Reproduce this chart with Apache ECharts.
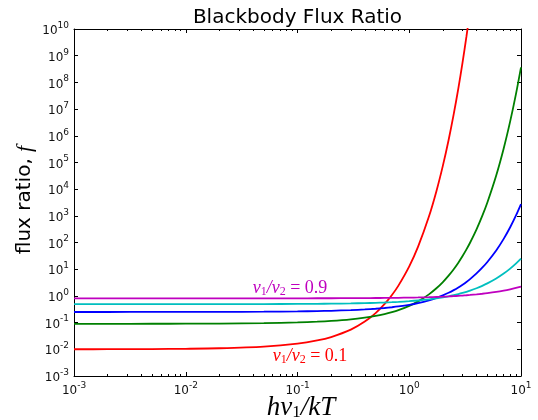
<!DOCTYPE html>
<html>
<head>
<meta charset="utf-8">
<script src="https://cdn.jsdelivr.net/npm/echarts@6/dist/echarts.min.js"></script>
<style>
  html, body { margin: 0; padding: 0; background: #fff; }
  #chart { width: 538px; height: 420px; }
</style>
</head>
<body>
<div id="chart"></div>
<script>
// x = h*nu1/kT
var xs = [0.001, 0.002, 0.005, 0.01, 0.02, 0.05, 0.1, 0.15, 0.2, 0.3, 0.4, 0.5, 0.6, 0.7, 0.8, 1,
  1.2, 1.5, 1.75, 2, 2.25, 2.5, 2.75, 3, 3.25, 3.5, 4, 4.5, 5, 6, 7, 8, 9, 10];
// flux ratio f, one array per nu1/nu2
var f01 = [0.01005, 0.01009, 0.010225, 0.010465, 0.01096, 0.01265, 0.01634, 0.02151, 0.02886, 0.05455,
  0.109, 0.2272, 0.4895, 1.081, 2.432, 12.82, 70.15, 938.9, 8376, 75937, 6.96e5, 6.44e6, 5.99e7,
  5.6e8, 5.25e9, 4.94e10];
var f03 = [0.0901, 0.09021, 0.09053, 0.09106, 0.09214, 0.09551, 0.1016, 0.1082, 0.1156, 0.1326,
  0.1534, 0.1787, 0.2098, 0.248, 0.295, 0.4247, 0.6237, 1.143, 1.934, 3.316, 5.748, 10.04, 17.65,
  31.16, 55.2, 98.04, 311, 991.5, 3170, 32551, 3.35e5, 3.45e6, 3.56e7, 3.67e8];
var f05 = [0.2501, 0.2503, 0.2506, 0.2513, 0.2525, 0.2564, 0.2631, 0.2702, 0.2777, 0.2937, 0.3115,
  0.3311, 0.3528, 0.3767, 0.4032, 0.4648, 0.54, 0.6852, 0.8443, 1.049, 1.311, 1.648, 2.08, 2.636,
  3.349, 4.264, 6.95, 11.38, 18.68, 50.55, 137.2, 372.7, 1013, 2753];
var f07 = [0.4901, 0.4902, 0.4905, 0.4911, 0.4921, 0.4953, 0.5008, 0.5065, 0.5123, 0.5246, 0.5376,
  0.5514, 0.5659, 0.5814, 0.5977, 0.6334, 0.673, 0.7412, 0.8067, 0.8811, 0.9652, 1.06, 1.167,
  1.288, 1.423, 1.574, 1.934, 2.382, 2.941, 4.498, 6.895, 10.58, 16.24, 24.92];
var f09 = [0.81005, 0.81009, 0.81023, 0.81045, 0.8109, 0.81225, 0.8146, 0.817, 0.8194, 0.8243,
  0.8295, 0.8348, 0.8404, 0.8461, 0.8521, 0.8645, 0.8778, 0.8992, 0.9184, 0.9388, 0.9604, 0.9833,
  1.007, 1.033, 1.059, 1.086, 1.145, 1.207, 1.274, 1.422, 1.588, 1.774, 1.982, 2.215];

var names = ["0.1", "0.3", "0.5", "0.7", "0.9"];
var colors = ["#ff0000", "#008000", "#0000ff", "#00bfbf", "#bf00bf"];
var values = [f01, f03, f05, f07, f09];

// tick positions
var xTicks = [0.001, 0.01, 0.1, 1, 10];
var xMinor = [0.002, 0.003, 0.004, 0.005, 0.006, 0.007, 0.008, 0.009,
  0.02, 0.03, 0.04, 0.05, 0.06, 0.07, 0.08, 0.09,
  0.2, 0.3, 0.4, 0.5, 0.6, 0.7, 0.8, 0.9,
  2, 3, 4, 5, 6, 7, 8, 9];
var yTicks = [1e-3, 1e-2, 1e-1, 1, 1e1, 1e2, 1e3, 1e4, 1e5, 1e6, 1e7, 1e8, 1e9, 1e10];

var chart = echarts.init(document.getElementById("chart"));

var font = "DejaVu Sans";
var mathFont = "Liberation Serif";

function powLabel(v) {
  var e = Math.round(Math.log10(v));
  return "{b|10}{s|" + (e < 0 ? "-" + (-e) : e) + "}";
}
var powRich = {
  b: { fontSize: 12, fontFamily: font, color: "#111", verticalAlign: "bottom", lineHeight: 16 },
  s: { fontSize: 9, fontFamily: font, color: "#111", verticalAlign: "top", lineHeight: 16 }
};

function logAxis(opt) {
  return {
    type: "log",
    logBase: 10,
    gridIndex: opt.grid || 0,
    min: opt.min,
    max: opt.max,
    position: opt.pos,
    axisLine: { show: opt.line, onZero: false, lineStyle: { color: "#000", width: 1 } },
    axisTick: { show: true, inside: true, length: opt.len, customValues: opt.ticks, lineStyle: { color: "#000" } },
    splitLine: { show: false },
    axisLabel: opt.labels
      ? { show: true, margin: 5, customValues: opt.ticks, formatter: powLabel, rich: powRich }
      : { show: false }
  };
}

var series = values.map(function (v, i) {
  return {
    name: names[i],
    type: "line",
    showSymbol: false,
    smooth: 0.3,
    clip: true,
    lineStyle: { color: colors[i], width: 1.8 },
    itemStyle: { color: colors[i] },
    data: v.map(function (y, j) { return [xs[j], y]; })
  };
});

chart.setOption({
  animation: false,
  backgroundColor: "#fff",
  grid: [
    { left: 74, right: 17, top: 29, bottom: 44, containLabel: false },
    { left: 74, right: 17, top: 29, bottom: 44, containLabel: false }
  ],
  xAxis: [
    logAxis({ min: 0.001, max: 10, pos: "bottom", line: true, len: 4, ticks: xTicks, labels: true }),
    logAxis({ min: 0.001, max: 10, pos: "top", line: true, len: 4, ticks: xTicks }),
    logAxis({ grid: 1, min: 0.001, max: 10, pos: "bottom", line: false, len: 2, ticks: xMinor }),
    logAxis({ grid: 1, min: 0.001, max: 10, pos: "top", line: false, len: 2, ticks: xMinor })
  ],
  yAxis: [
    logAxis({ min: 0.001, max: 1e10, pos: "left", line: true, len: 4, ticks: yTicks, labels: true }),
    logAxis({ min: 0.001, max: 1e10, pos: "right", line: true, len: 4, ticks: yTicks }),
    { type: "log", gridIndex: 1, min: 0.001, max: 1e10, show: false }
  ],
  series: series,
  graphic: [
    {
      type: "text", x: 297.5, y: 18,
      style: { text: "Blackbody Flux Ratio", font: "20px DejaVu Sans", fill: "#000", align: "center", verticalAlign: "middle" }
    },
    {
      type: "text", x: 25, y: 200, rotation: Math.PI / 2,
      style: { text: "flux ratio, {i|f}", font: "20px DejaVu Sans", fill: "#000", align: "center", verticalAlign: "middle",
        rich: { i: { fontFamily: mathFont, fontStyle: "italic", fontSize: 22, fill: "#000" } } }
    },
    {
      type: "text", x: 301, y: 408,
      style: {
        text: "{i|hν}{u|1}{i|/kT}", align: "center", verticalAlign: "middle",
        rich: {
          i: { fontFamily: mathFont, fontStyle: "italic", fontSize: 27, fill: "#000", verticalAlign: "bottom", lineHeight: 27 },
          u: { fontFamily: mathFont, fontSize: 17, fill: "#000", verticalAlign: "bottom", lineHeight: 22 }
        }
      }
    },
    {
      type: "text", x: 290, y: 288,
      style: {
        text: "{i|ν}{u|1}{i|/ν}{u|2}{n| = 0.9}", align: "center", verticalAlign: "middle",
        rich: {
          i: { fontFamily: mathFont, fontStyle: "italic", fontSize: 18, fill: "#bf00bf", verticalAlign: "bottom", lineHeight: 19 },
          u: { fontFamily: mathFont, fontSize: 12, fill: "#bf00bf", verticalAlign: "bottom", lineHeight: 16 },
          n: { fontFamily: mathFont, fontSize: 18, fill: "#bf00bf", verticalAlign: "bottom", lineHeight: 19 }
        }
      }
    },
    {
      type: "text", x: 310, y: 356,
      style: {
        text: "{i|ν}{u|1}{i|/ν}{u|2}{n| = 0.1}", align: "center", verticalAlign: "middle",
        rich: {
          i: { fontFamily: mathFont, fontStyle: "italic", fontSize: 18, fill: "#ff0000", verticalAlign: "bottom", lineHeight: 19 },
          u: { fontFamily: mathFont, fontSize: 12, fill: "#ff0000", verticalAlign: "bottom", lineHeight: 16 },
          n: { fontFamily: mathFont, fontSize: 18, fill: "#ff0000", verticalAlign: "bottom", lineHeight: 19 }
        }
      }
    }
  ]
});
</script>
</body>
</html>
